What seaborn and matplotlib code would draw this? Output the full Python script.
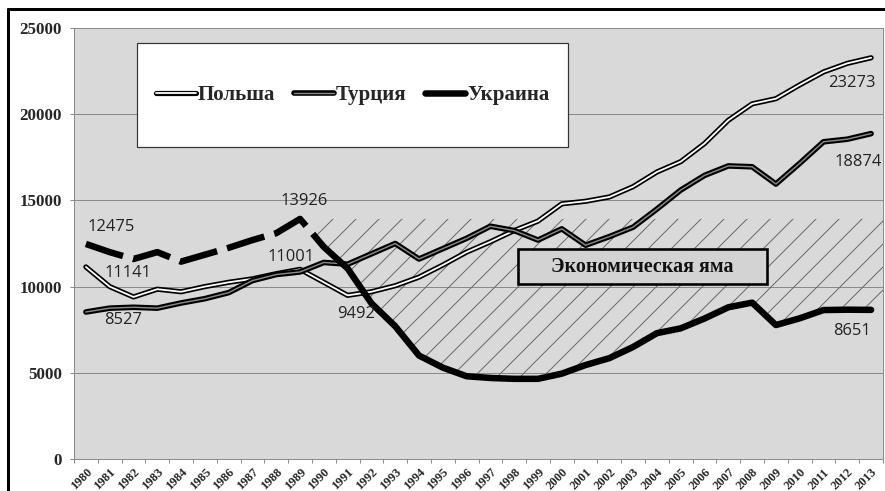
import numpy as np
import pandas as pd
import matplotlib
matplotlib.use("Agg")
import matplotlib.pyplot as plt
import matplotlib.patheffects as pe
from matplotlib.patches import Rectangle
from matplotlib.lines import Line2D
import seaborn as sns

# ---------------- data ----------------
years = list(range(1980, 2014))
poland = [11141, 10000, 9400, 9850, 9700, 10000, 10250, 10450, 10750, 11001,
          10250, 9492, 9700, 10050, 10550, 11250, 12000, 12600, 13250, 13800,
          14800, 14950, 15200, 15800, 16650, 17250, 18300, 19650, 20600, 20900,
          21700, 22450, 22950, 23273]
turkey = [8527, 8750, 8800, 8750, 9050, 9300, 9650, 10350, 10700, 10850,
          11400, 11300, 11900, 12500, 11600, 12200, 12800, 13500, 13250, 12700,
          13350, 12400, 12900, 13450, 14500, 15600, 16450, 17000, 16950, 15950,
          17150, 18400, 18550, 18874]
ukraine = [12475, 12000, 11600, 12000, 11450, 11850, 12250, 12700, 13100, 13926,
           12300, 11050, 9030, 7700, 6000, 5300, 4800, 4700, 4650, 4650,
           4950, 5450, 5850, 6500, 7300, 7580, 8150, 8800, 9070, 7770,
           8160, 8640, 8660, 8651]
series_names = ["Польша", "Турция", "Украина"]
hole_label = "Экономическая яма"
y_ticks = [0, 5000, 10000, 15000, 20000, 25000]

df = pd.DataFrame({"year": years, "Польша": poland, "Турция": turkey, "Украина": ukraine})

# ---------------- figure ----------------
DPI = 138
def pt(px):
    return px * 72.0 / DPI

sns.set_style("white")
plt.rcParams["font.family"] = ["DejaVu Sans"]
plt.rcParams["hatch.linewidth"] = pt(1.0)

fig = plt.figure(figsize=(885 / DPI, 491 / DPI), dpi=DPI, facecolor="white")
ax = fig.add_axes([74 / 885, (491 - 459) / 491, 809 / 885, 431 / 491])
ax.set_facecolor("#d9d9d9")

serif_bold = dict(family="Liberation Serif", weight="bold")

# grid
ax.set_ylim(0, 25000)
ax.set_xlim(1979.5, 2013.5)
ax.set_yticks(y_ticks)
ax.yaxis.grid(True, color="#8a8a8a", linewidth=pt(1.0))
ax.xaxis.grid(False)
ax.set_axisbelow(True)

# hatched "economic hole": between Ukraine line and its pre-crisis peak
peak = max(ukraine)
hx = np.concatenate([[1989.5], df["year"].values[10:], [2013.5]])
hy = np.interp(hx, df["year"].values, df["Украина"].values)
ax.fill_between(hx, hy, peak, facecolor="none", edgecolor="#6a6a6a",
                linewidth=0, hatch="//", zorder=1)

# lines
sns.lineplot(data=df, x="year", y="Польша", ax=ax, color="white",
             linewidth=pt(1.8), label=series_names[0], zorder=4,
             solid_capstyle="round",
             path_effects=[pe.Stroke(linewidth=pt(5.2), foreground="black"), pe.Normal()])
sns.lineplot(data=df, x="year", y="Турция", ax=ax, color="#8c8c8c",
             linewidth=pt(1.4), label=series_names[1], zorder=4,
             solid_capstyle="round",
             path_effects=[pe.Stroke(linewidth=pt(5.6), foreground="black"), pe.Normal()])
pre = df[df["year"] <= 1990]
post = df[df["year"] >= 1990]
sns.lineplot(data=pre, x="year", y="Украина", ax=ax, color="black",
             linewidth=pt(6.5), linestyle=(0, (6.0, 1.6)), zorder=5)
sns.lineplot(data=post, x="year", y="Украина", ax=ax, color="black",
             linewidth=pt(6.5), label=series_names[2], zorder=5,
             solid_capstyle="round")

# legend inside a white box
ax.add_patch(Rectangle((0.078, 0.724), 0.533, 0.241, transform=ax.transAxes,
                       facecolor="white", edgecolor="#333333", linewidth=pt(1.2), zorder=6))
handles, labels = ax.get_legend_handles_labels()
leg = ax.legend(handles, labels, loc="center", bbox_to_anchor=(0.3445, 0.8445),
                ncol=3, frameon=False, handlelength=1.9, handletextpad=0.1,
                columnspacing=0.9, prop=dict(family="Liberation Serif", weight="bold",
                                             size=pt(21)))
leg.set_zorder(7)

# "economic hole" label box
ax.add_patch(Rectangle((1998.16, 10150), 10.46, 2030, facecolor="#d3d3d3",
                       edgecolor="black", linewidth=pt(2.6), zorder=6))
ax.text(1998.16 + 10.46 / 2, 10150 + 2030 / 2, hole_label, ha="center", va="center",
        fontsize=pt(20), zorder=7, color="#111111", **serif_bold)

# value annotations (value from data, offset in px)
ann = [
    (ukraine, 0, 25, 17), (poland, 0, 42, -6), (turkey, 0, 37, -8),
    (ukraine, 9, 4, 18), (poland, 9, -9, 12), (poland, 11, 8, -19),
    (poland, 33, -19, -25), (turkey, 33, -13, -28), (ukraine, 33, -19, -21),
]
for ser, i, dx, dy in ann:
    ax.annotate(str(ser[i]), xy=(years[i], ser[i]), xytext=(pt(dx), pt(dy)),
                textcoords="offset points", ha="center", va="center",
                fontsize=pt(16.5), family="Open Sans", color="#222222", zorder=8)

# axes styling
for s in ax.spines.values():
    s.set_color("#8a8a8a")
    s.set_linewidth(pt(1.0))
ax.set_xlabel("")
ax.set_ylabel("")
ax.set_xticks(years)
ax.set_xticklabels([str(y) for y in years], rotation=45, ha="right",
                   rotation_mode="anchor", fontsize=pt(12.5), **serif_bold)
ax.set_xticks([y - 0.5 for y in years] + [2013.5], minor=True)
ax.tick_params(axis="x", which="major", length=0, pad=pt(7))
ax.tick_params(axis="x", which="minor", length=pt(4), width=pt(1), color="#8a8a8a", bottom=True)
ax.set_yticklabels([str(v) for v in y_ticks], fontsize=pt(17), **serif_bold)
ax.tick_params(axis="y", which="major", length=pt(4), width=pt(1), color="#8a8a8a",
               left=True, pad=pt(8))

# outer thick frame
fig.add_artist(Line2D([8 / 885, 8 / 885], [-0.05, 1 - 9 / 491], color="black",
                      linewidth=pt(3), transform=fig.transFigure, clip_on=False))
fig.add_artist(Line2D([8 / 885, 1.05], [1 - 9 / 491, 1 - 9 / 491], color="black",
                      linewidth=pt(3), transform=fig.transFigure, clip_on=False))

fig.savefig("out.png", dpi=DPI, facecolor="white")
